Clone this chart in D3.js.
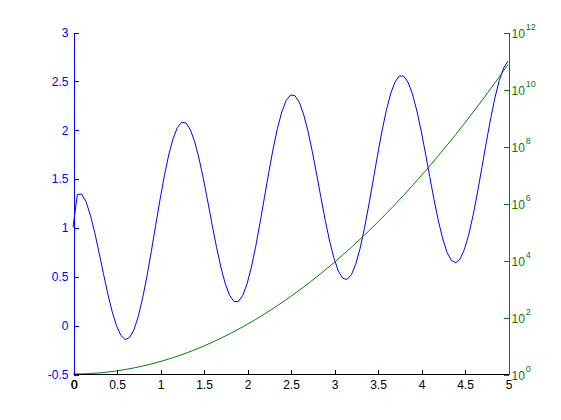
<!DOCTYPE html>
<html><head><meta charset="utf-8">
<script src="https://cdn.jsdelivr.net/npm/d3@7"></script>
<style>body{margin:0;background:#fff}svg{display:block}text{font-family:"Liberation Sans",Arial,sans-serif}</style>
</head><body>
<svg id="c" width="561" height="420"></svg>
<script>
// Blue series (left axis), sampled every 0.05 from 0 to 5
const x1 = d3.range(0, 101).map(i => +(i * 0.05).toFixed(2));
const y1 = [1.000,1.337,1.342,1.263,1.125,0.945,0.740,0.527,0.321,0.138,
  -0.007,-0.105,-0.147,-0.128,-0.049,0.088,0.275,0.501,0.755,1.021,
  1.284,1.529,1.741,1.909,2.023,2.077,2.068,1.998,1.873,1.700,
  1.491,1.261,1.024,0.796,0.592,0.424,0.305,0.243,0.241,0.302,
  0.421,0.592,0.805,1.048,1.305,1.562,1.803,2.014,2.183,2.299,
  2.355,2.349,2.283,2.159,1.988,1.779,1.546,1.305,1.071,0.859,
  0.683,0.553,0.480,0.467,0.516,0.625,0.786,0.992,1.229,1.482,
  1.738,1.980,2.193,2.365,2.486,2.549,2.549,2.488,2.370,2.202,
  1.996,1.764,1.521,1.283,1.066,0.882,0.744,0.661,0.639,0.678,
  0.778,0.931,1.130,1.362,1.613,1.868,2.111,2.328,2.505,2.632,2.701];
// Green series (right, log axis), sampled every 0.1
const x2 = d3.range(0, 51).map(i => +(i * 0.1).toFixed(1));
const y2 = [1,1.01005,1.0408,1.0942,1.1735,1.2840,1.4333,1.6323,1.8965,2.2479,
  2.7183,3.3535,4.2207,5.4195,7.0993,9.4877,12.936,17.993,25.534,36.966,
  54.598,82.27,126.47,198.34,317.35,518.01,862.7,1465.5,2540.2,4491.8,
  8103.1,14913,28000,53636,104822,208977,425066,882040,1.8673e6,4.0330e6,
  8.8861e6,1.9975e7,4.5810e7,1.0718e8,2.5582e8,6.2296e8,1.5476e9,3.9226e9,1.0142e10,2.6755e10,7.2005e10];
const xTicks = [0,0.5,1,1.5,2,2.5,3,3.5,4,4.5,5];
const xTickLabels = ["0","0.5","1","1.5","2","2.5","3","3.5","4","4.5","5"];
const yLeftTicks = [-0.5,0,0.5,1,1.5,2,2.5,3];
const yLeftTickLabels = ["-0.5","0","0.5","1","1.5","2","2.5","3"];
const yRightTicks = [1,1e2,1e4,1e6,1e8,1e10,1e12];
const yRightExps = ["0","2","4","6","8","10","12"];

const L = 73, R = 508, T = 32, B = 374;
const FS = 12;
const svg = d3.select("#c");
const x = d3.scaleLinear().domain([0,5]).range([L, R]);
const yl = d3.scaleLinear().domain([-0.5,3]).range([B, T]);
const yr = d3.scaleLog().domain([1,1e12]).range([B, T]);
const blue = "#0000ff", green = "#008000";

// lines
svg.append("path").datum(x1.map((v,i)=>[v,y1[i]]))
  .attr("fill","none").attr("stroke",blue).attr("stroke-width",1)
  .attr("d", d3.line().x(d=>x(d[0])).y(d=>yl(d[1])));
svg.append("path").datum(x2.map((v,i)=>[v,y2[i]]))
  .attr("fill","none").attr("stroke",green).attr("stroke-width",1)
  .attr("d", d3.line().x(d=>x(d[0])).y(d=>yr(d[1])));

// bottom axis
const gx = svg.append("g").attr("transform",`translate(0.5,${B+0.5})`);
gx.call(d3.axisBottom(x).tickValues(xTicks).tickFormat((d,i)=>xTickLabels[i]).tickSizeInner(-5).tickSizeOuter(0).tickPadding(6));
gx.select(".domain").attr("stroke","#000").attr("d",`M${L},0H${R}`);
gx.selectAll("line").attr("stroke","#000");
gx.selectAll("text").attr("fill","#000").attr("font-size",FS).attr("font-family","Liberation Sans, Arial, sans-serif");
// doubled "0" (both axes draw it)
gx.append("text").attr("x", x(0)+1).attr("y", 6).attr("dy","0.71em").attr("text-anchor","middle")
  .attr("font-size",FS).attr("fill","#000").attr("font-family","Liberation Sans, Arial, sans-serif").text(xTickLabels[0]);

// left axis
const gl = svg.append("g").attr("transform",`translate(${L+0.5},0.5)`);
gl.call(d3.axisLeft(yl).tickValues(yLeftTicks).tickFormat((d,i)=>yLeftTickLabels[i]).tickSizeInner(-5).tickSizeOuter(0).tickPadding(5));
gl.select(".domain").attr("stroke",blue);
gl.selectAll("line").attr("stroke",blue);
gl.selectAll("text").attr("fill",blue).attr("font-size",FS).attr("font-family","Liberation Sans, Arial, sans-serif");

// right axis
const gr = svg.append("g").attr("transform",`translate(${R+0.5},0.5)`);
gr.call(d3.axisRight(yr).tickValues(yRightTicks).tickFormat("").tickSizeInner(-5).tickSizeOuter(0));
gr.select(".domain").attr("stroke",green);
gr.selectAll("line").attr("stroke",green);
yRightTicks.forEach((t,i)=>{
  const tx = gr.append("text").attr("x",3).attr("y",yr(t)+5).attr("fill",green)
    .attr("font-size",FS).attr("font-family","Liberation Sans, Arial, sans-serif");
  tx.append("tspan").text("10");
  tx.append("tspan").attr("font-size",9).attr("dx",1).attr("dy",-8).text(yRightExps[i]);
});
svg.selectAll(".domain, .tick line").attr("shape-rendering","crispEdges");
</script>
</body></html>
